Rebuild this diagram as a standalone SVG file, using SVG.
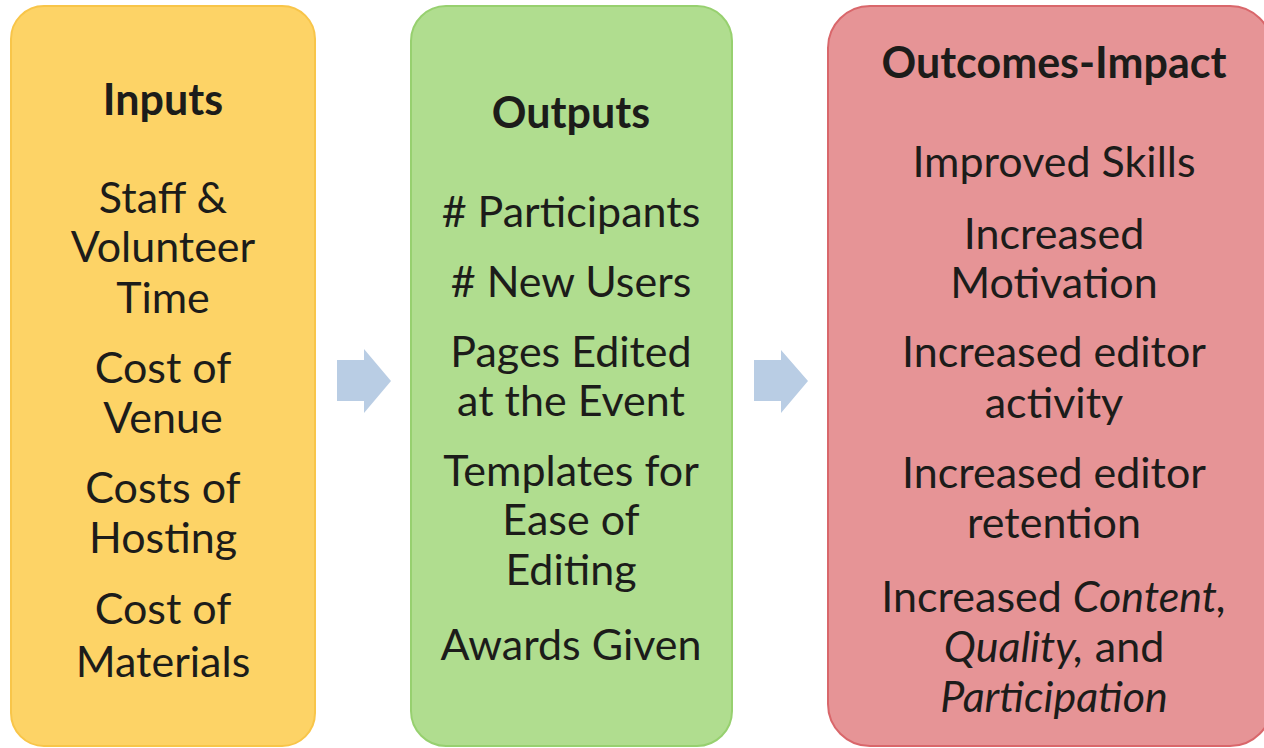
<svg xmlns="http://www.w3.org/2000/svg" width="1264" height="748" viewBox="0 0 1264 748">
<style>
text{font-family:Lato,"Open Sans","Liberation Sans",sans-serif;font-size:43px;fill:#1c1c1a;text-anchor:middle}
.t{font-weight:bold}
.box{stroke-width:2}
.arrow{fill:#b9cde4}
</style>
<rect width="1264" height="748" fill="#ffffff"/>
<g id="inputs">
<rect class="box" x="11" y="6" width="304" height="740" rx="33" fill="#fdd366" stroke="#f8c549"/>
<text class="t" x="163" y="115">Inputs</text>
<text x="163" y="213">Staff &amp;</text>
<text x="163" y="262">Volunteer</text>
<text x="163" y="313">Time</text>
<text x="163" y="383">Cost of</text>
<text x="163" y="433">Venue</text>
<text x="163" y="503">Costs of</text>
<text x="163" y="553">Hosting</text>
<text x="163" y="624">Cost of</text>
<text x="163" y="677">Materials</text>
</g>
<g id="outputs">
<rect class="box" x="411" y="6" width="321" height="740" rx="35" fill="#b0dd8f" stroke="#97d06f"/>
<text class="t" x="571" y="128">Outputs</text>
<text x="571" y="227"># Participants</text>
<text x="571" y="297"># New Users</text>
<text x="571" y="367">Pages Edited</text>
<text x="571" y="416">at the Event</text>
<text x="571" y="486">Templates for</text>
<text x="571" y="535">Ease of</text>
<text x="571" y="585">Editing</text>
<text x="571" y="660">Awards Given</text>
</g>
<g id="outcomes">
<rect class="box" x="828" y="6" width="444" height="740" rx="42" fill="#e69496" stroke="#d9676b"/>
<text class="t" x="1054" y="78">Outcomes-Impact</text>
<text x="1054" y="177">Improved Skills</text>
<text x="1054" y="249">Increased</text>
<text x="1054" y="298">Motivation</text>
<text x="1054" y="367">Increased editor</text>
<text x="1054" y="418">activity</text>
<text x="1054" y="488">Increased editor</text>
<text x="1054" y="538">retention</text>
<text x="1054" y="612">Increased <tspan font-style="italic">Content,</tspan></text>
<text x="1054" y="662"><tspan font-style="italic">Quality,</tspan> and</text>
<text x="1054" y="712" font-style="italic">Participation</text>
</g>
<g id="connectors">
<polygon class="arrow" points="337,360 364,360 364,349 391,381 364,413 364,401 337,401"/>
<polygon class="arrow" points="754,360 781,360 781,350 808,381 781,413 781,401 754,401"/>
</g>
</svg>
